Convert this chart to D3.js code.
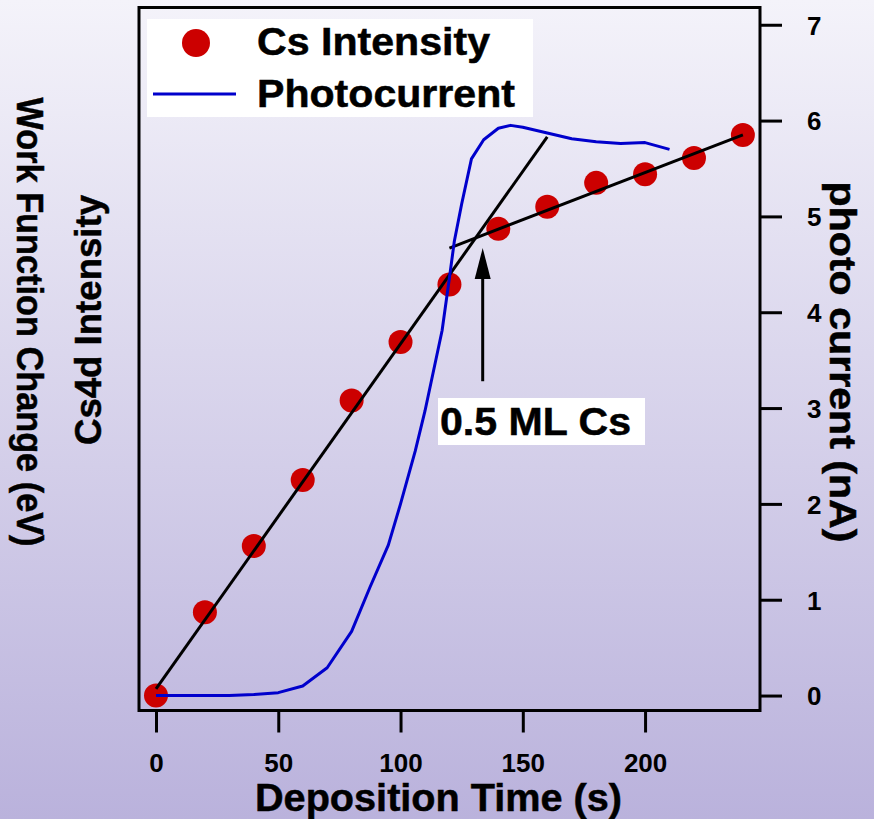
<!DOCTYPE html>
<html>
<head>
<meta charset="utf-8">
<script src="https://cdn.jsdelivr.net/npm/d3@7/dist/d3.min.js"></script>
<style>
  body { margin: 0; }
  svg { display: block; font-family: "Liberation Sans", Arial, sans-serif; font-weight: bold; }
  .big { stroke: #000; stroke-width: 0.5px; }
</style>
</head>
<body>
<div class="canvas"></div>
<script>
// Cs 4d intensity (arbitrary units, drawn on the same vertical scale as the photocurrent)
const csTime = [0, 20, 40, 60, 80, 100, 120, 140, 160, 180, 200, 220, 240];
const csIntensity = [0, 0.87, 1.56, 2.25, 3.08, 3.69, 4.29, 4.87, 5.10, 5.35, 5.44, 5.61, 5.85];

// photocurrent (nA)
const pcTime = [0, 10, 20, 30, 40, 50, 60, 70, 80, 87.5, 95, 100, 106, 110, 117, 120, 122, 125, 129, 134, 140, 145, 150, 160, 170, 180, 190, 200, 210];
const pcValue = [0, 0, 0, 0, 0.01, 0.03, 0.10, 0.29, 0.67, 1.13, 1.57, 2.0, 2.55, 2.97, 3.81, 4.36, 4.74, 5.13, 5.60, 5.80, 5.92, 5.95, 5.93, 5.87, 5.81, 5.78, 5.76, 5.77, 5.70];

// linear fits drawn as black lines
const fitLow = [[0, 0.07], [160, 5.83]];
const fitHigh = [[120, 4.67], [240, 5.85]];

// arrow marking the break
const arrowTime = 133.6;
const arrowFrom = 3.28;
const arrowTo = 4.67;

const xTicks = [0, 50, 100, 150, 200];
const yTicks = [0, 1, 2, 3, 4, 5, 6, 7];

const w = 874;
const h = 819;
const pLeft = 139, pRight = 760, pTop = 7.5, pBottom = 710.5;

const svg = d3.select(".canvas").append("svg").attr("width", w).attr("height", h);

const grad = svg.append("defs").append("linearGradient")
  .attr("id", "bg").attr("x1", 0).attr("y1", 0).attr("x2", 0).attr("y2", 1);
grad.append("stop").attr("offset", "0%").attr("stop-color", "#f4f3fa");
grad.append("stop").attr("offset", "100%").attr("stop-color", "#bab2dc");
svg.append("rect").attr("width", w).attr("height", h).attr("fill", "url(#bg)");

const x = d3.scaleLinear([-6.95, 247], [pLeft, pRight]);
const y = d3.scaleLinear([-0.156, 7.18], [pBottom, pTop]);

// frame
svg.append("rect")
  .attr("x", pLeft).attr("y", pTop)
  .attr("width", pRight - pLeft).attr("height", pBottom - pTop)
  .attr("fill", "none").attr("stroke", "#000").attr("stroke-width", 3);

const xAxis = svg.append("g")
  .attr("transform", `translate(0, ${pBottom})`)
  .call(d3.axisBottom(x).tickValues(xTicks).tickSize(22).tickFormat(d3.format("d")));
xAxis.select(".domain").remove();
xAxis.selectAll("line").attr("stroke-width", 3);
xAxis.selectAll("text").attr("y", 61).attr("dy", 0)
  .attr("font-size", 26).attr("font-family", "Liberation Sans, Arial, sans-serif")
  .attr("font-weight", "bold").attr("fill", "#000");

const yAxis = svg.append("g")
  .attr("transform", `translate(${pRight}, 0)`)
  .call(d3.axisRight(y).tickValues(yTicks).tickSize(22));
yAxis.select(".domain").remove();
yAxis.selectAll("line").attr("stroke-width", 3);
yAxis.selectAll("text").attr("x", 47).attr("dy", "0.36em")
  .attr("font-size", 26).attr("font-family", "Liberation Sans, Arial, sans-serif")
  .attr("font-weight", "bold").attr("fill", "#000");

// Cs points
const cs = csTime.map((t, i) => [t, csIntensity[i]]);
svg.append("g").selectAll("circle")
  .data(cs).join("circle")
  .attr("cx", d => x(d[0])).attr("cy", d => y(d[1]))
  .attr("r", 12).attr("fill", "#cc0000");

const line = d3.line().x(d => x(d[0])).y(d => y(d[1]));
[fitLow, fitHigh].forEach(f => {
  svg.append("path").attr("d", line(f))
    .attr("fill", "none").attr("stroke", "#000").attr("stroke-width", 3);
});

const pc = pcTime.map((t, i) => [t, pcValue[i]]);
svg.append("path").attr("d", line(pc))
  .attr("fill", "none").attr("stroke", "#0000cc").attr("stroke-width", 3)
  .attr("stroke-linejoin", "round");

// arrow
const ax = x(arrowTime), ay0 = y(arrowFrom), ay1 = y(arrowTo);
svg.append("line").attr("x1", ax).attr("x2", ax).attr("y1", ay0).attr("y2", ay1 + 25)
  .attr("stroke", "#000").attr("stroke-width", 3);
svg.append("path")
  .attr("d", `M${ax},${ay1} L${ax - 8},${ay1 + 31} L${ax + 8},${ay1 + 31} Z`)
  .attr("fill", "#000");

// annotation label
svg.append("rect").attr("x", 438).attr("y", 398).attr("width", 207).attr("height", 47).attr("fill", "#fff");
svg.append("text").attr("class", "big").attr("x", 440).attr("y", 435).attr("font-size", 38)
  .attr("textLength", 191).attr("lengthAdjust", "spacingAndGlyphs").text("0.5 ML Cs");

// legend
svg.append("rect").attr("x", 147).attr("y", 19).attr("width", 386).attr("height", 98).attr("fill", "#fff");
svg.append("circle").attr("cx", 196).attr("cy", 43).attr("r", 14).attr("fill", "#cc0000");
svg.append("line").attr("x1", 153).attr("x2", 236).attr("y1", 94).attr("y2", 94)
  .attr("stroke", "#0000cc").attr("stroke-width", 3);
svg.append("text").attr("class", "big").attr("x", 257).attr("y", 55).attr("font-size", 38)
  .attr("textLength", 233).attr("lengthAdjust", "spacingAndGlyphs").text("Cs Intensity");
svg.append("text").attr("class", "big").attr("x", 257).attr("y", 107).attr("font-size", 38)
  .attr("textLength", 258).attr("lengthAdjust", "spacingAndGlyphs").text("Photocurrent");

// axis titles
svg.append("text").attr("class", "big").attr("x", 255).attr("y", 811).attr("font-size", 39)
  .attr("textLength", 367).attr("lengthAdjust", "spacingAndGlyphs").text("Deposition Time (s)");

svg.append("text").attr("class", "big").attr("transform", "translate(17, 322) rotate(90)")
  .attr("text-anchor", "middle").attr("font-size", 36)
  .attr("textLength", 449).attr("lengthAdjust", "spacingAndGlyphs").text("Work Function Change (eV)");

svg.append("text").attr("class", "big").attr("transform", "translate(101, 320) rotate(-90)")
  .attr("text-anchor", "middle").attr("font-size", 36)
  .attr("textLength", 250).attr("lengthAdjust", "spacingAndGlyphs").text("Cs4d Intensity");

svg.append("text").attr("class", "big").attr("transform", "translate(830, 362) rotate(90)")
  .attr("text-anchor", "middle").attr("font-size", 37)
  .attr("textLength", 361).attr("lengthAdjust", "spacingAndGlyphs").text("photo current (nA)");
</script>
</body>
</html>
